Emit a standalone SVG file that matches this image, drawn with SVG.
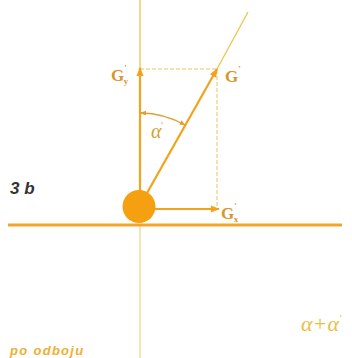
<svg xmlns="http://www.w3.org/2000/svg" width="352" height="358" viewBox="0 0 352 358">
<style>
.thin{stroke:#ecc54a;stroke-width:1.3;fill:none}
.vec{stroke:#f2a21c;stroke-width:2.2;fill:none}
.dash{stroke:#efc25a;stroke-width:1;stroke-dasharray:4 2;fill:none}
.lbl{font-family:"Liberation Serif",serif;font-weight:bold;font-size:17px;fill:#d8952a}
.sub{font-size:9px}
</style>
<defs>
<marker id="ah" viewBox="0 0 10 10" refX="9" refY="5" markerWidth="10" markerHeight="9" orient="auto" markerUnits="userSpaceOnUse">
<path d="M0,1 L10,5 L0,9 z" fill="#f2a21c"/>
</marker>
<marker id="sa" viewBox="0 0 10 10" refX="9" refY="5" markerWidth="6" markerHeight="6" orient="auto-start-reverse" markerUnits="userSpaceOnUse">
<path d="M0,1 L10,5 L0,9 z" fill="#e0a030"/>
</marker>
</defs>
<g id="connectors">
<line class="thin" x1="140" y1="0" x2="140" y2="190"/>
<line x1="140" y1="225" x2="140" y2="358" stroke="#ecd890" stroke-width="1.3"/>
<line class="thin" x1="217" y1="69" x2="248" y2="12"/>
<line x1="8" y1="225" x2="342" y2="225" stroke="#f3a52a" stroke-width="3"/>
<polyline class="dash" points="140,69 217,69 217,207"/>
<line class="vec" x1="140" y1="192" x2="140" y2="68" marker-end="url(#ah)"/>
<line class="vec" x1="150" y1="209" x2="219" y2="209" marker-end="url(#ah)"/>
<line class="vec" x1="147" y1="193" x2="217" y2="69" marker-end="url(#ah)"/>
<path d="M140.5,113 A93,93 0 0 1 185,125" stroke="#e0a030" stroke-width="1.4" fill="none" marker-start="url(#sa)" marker-end="url(#sa)"/>
</g>
<g id="ball"><circle cx="139" cy="206.5" r="16.5" fill="#f5a010"/></g>
<g id="Gy"><text class="lbl" x="111" y="81">G<tspan class="sub" dy="-10">'</tspan><tspan class="sub" dx="-3" dy="13">y</tspan></text></g>
<g id="G"><text class="lbl" x="225" y="82">G<tspan class="sub" dy="-10">'</tspan></text></g>
<g id="Gx"><text class="lbl" x="221" y="219">G<tspan class="sub" dy="-10">'</tspan><tspan class="sub" dx="-3" dy="13">x</tspan></text></g>
<g id="alpha"><text x="151" y="138" font-family="Liberation Serif,serif" font-style="italic" font-size="20" fill="#d8a030">α<tspan font-size="10" dx="-1" dy="-9">'</tspan></text></g>
<text x="10" y="194" font-family="Liberation Sans,sans-serif" font-weight="bold" font-style="italic" font-size="17" fill="#333">3 b</text>
<text x="10" y="355" font-family="Liberation Sans,sans-serif" font-weight="bold" font-style="italic" font-size="13" letter-spacing="1.3" fill="#f0b030">po odboju</text>
<text x="301" y="331" font-family="Liberation Serif,serif" font-style="italic" font-size="22" fill="#e8c040">α+α<tspan font-size="11" dy="-9">'</tspan></text>
</svg>
